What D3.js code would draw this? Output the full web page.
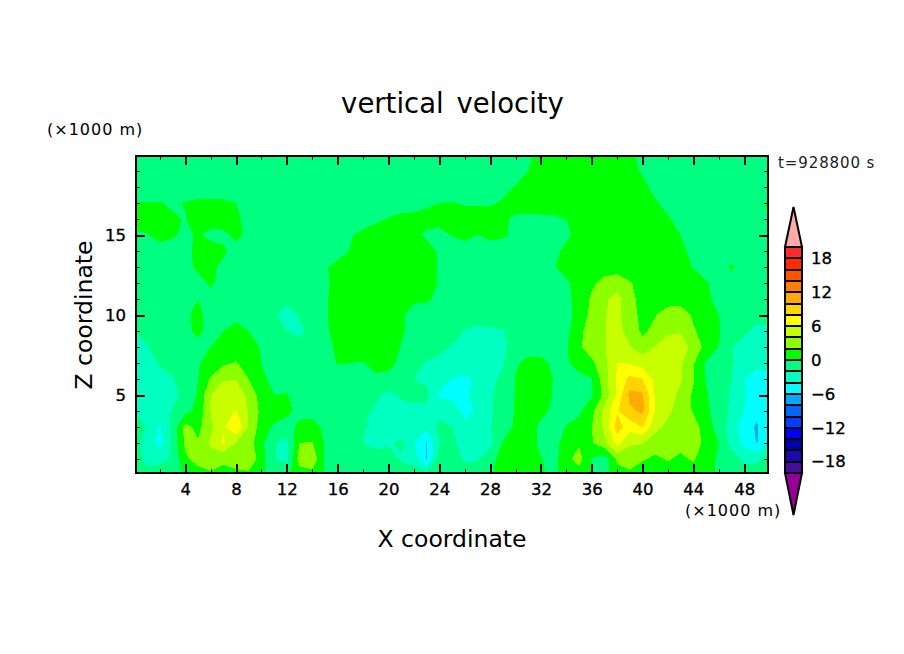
<!DOCTYPE html>
<html>
<head>
<meta charset="utf-8">
<title>vertical velocity</title>
<script src="https://cdnjs.cloudflare.com/ajax/libs/d3/7.8.5/d3.min.js"></script>
<style>
  body { margin: 0; background: #fff; }
  text { font-family: "DejaVu Sans", sans-serif; fill: #000; }
</style>
</head>
<body>
<div id="chart"></div>
<script>
// grid positions in km
const xGrid = d3.range(0, 51);
const zGrid = d3.range(20, -1, -1);

// vertical velocity, one row per km of height from z=20 down to z=0, columns x=0..50
const velocity = [
  [-1,-1,-1,-1,-1,-1,-1,-1,-1,-1, -1,-1,-1,-1,-1,-1,-1,-1,-1,-1, -1,-1,-1,-1,-1,-1,-1,-1,-1,-1, -1,-.4,.8,.8,.8,.8,.8,.8,.8,.4, -.6,-1,-1,-1,-1,-1,-1,-1,-1,-1,-1],
  [-1,-1,-1,-1,-1,-1,-1,-1,-1,-1, -1,-1,-1,-1,-1,-1,-1,-1,-1,-1, -1,-1,-1,-1,-1,-1,-1,-1,-1,-1, -.6,0,1,1,1,1,1,1,1,.6, -.2,-1,-1,-1,-1,-1,-1,-1,-1,-1,-1],
  [-1,-1,-1,-1,-1,-1,-1,-1,-1,-1, -1,-1,-1,-1,-1,-1,-1,-1,-1,-1, -1,-1,-1,-1,-1,-1,-1,-1,-1,-.5, .1,1,1,1,1,1,1,1,1,1, .5,-.5,-1,-1,-1,-1,-1,-1,-1,-1,-1],
  [.1,.1,.1,-.3,.1,.3,.3,.3,0,-1, -1,-1,-1,-1,-1,-1,-1,-1,-1,-1, -1,-1,-.7,-.3,0,.1,-.2,-.2,-.2,.2, .8,1,1,1,1,1,1,1,1,1, 1,.2,-.6,-1,-1,-1,-1,-1,-1,-.4,.3],
  [1,1,1,.3,-.1,1,1,1,.4,-.6, -1,-1,-1,-1,-1,-1,-1,-1,-1,-.4, .1,.6,.5,.6,.6,.8,1,1,1,.4, -.4,-.4,-.4,-.3,0,1,1,1,1,1, 1,1,.2,-.6,-1,-1,-1,-1,-1,-.5,0],
  [-.4,-.1,.8,.3,-.5,.3,-.6,-.5,.5,-.5, -1,-1,-1,-1,-1,-1,-1,-.2,.6,1, 1,1,.5,-.3,-.5,.1,.6,0,.5,.3, -.5,-1,-1,-1,-.3,.5,1,1,1,1, 1,1,1,0,-.7,-1,-1,-1,-1,-1,-1],
  [-1,-1,-1,-1,-.6,.5,1,.3,-.7,-1, -1,-1,-1,-1,-1,-1,-.8,.1,1,1, 1,1,1,.7,-.2,-1,-1,-1,-1,-1, -1,-1,-1,-.4,.4,1,1,1,1,1, 1,1,1,.5,-.5,-1,-1,-1,-1,-1,-1],
  [-1,-1,-1,-1,-.6,.4,.4,-.4,-1,-1, -1,-1,-1,-1,-1,-.2,.6,1,1,1, 1,1,1,.8,-.2,-1,-1,-1,-1,-1, -1,-1,-1,-.1,.5,1.2,1.2,1.2,1.2,1.2, 1.2,1.2,1.2,.8,-.1,-1,-1,.3,-1,-1,-1],
  [-1,-1,-1,-1,-1,-.7,.3,-.7,-1,-1, -1,-1,-1,-1,-1,-.3,.5,1.2,1.2,1.2, 1.2,1.2,1.2,1.2,-.2,-1,-1,-1,-1,-1, -1,-1,-1,-1,-.2,.5,1.7,2.6,3,2.1, 1.6,1.2,1.2,1.2,1,.2,-.7,-1,-1,-1,-1],
  [-1,-1,-1,-1,-.3,0,-.7,-1,-1,-1, -1,-1,-1.4,-1.2,-1,-.2,.6,1,1,1, 1,.4,.2,.3,-.5,-1,-1,-1,-1,-1, -1,-1,-1,-1,-.4,.6,2.3,3.6,4.8,2.5, 1.4,1.1,1.1,1.1,1.1,.4,-.6,-1,-1,-1,-1],
  [-1,-1,-1,-1,-.4,.6,-.9,-1,-.6,-1, -1,-1.7,-3,-1.8,-1,-.2,.7,1,1,1, 1,.2,-.5,-1,-1,-1,-1,-1.6,-1,-1, -1,-1,-1,-1,-.6,.7,2.6,3.9,4.6,2.6, 1.6,1.9,3,3.2,1.7,.9,0,-.8,-1,-1.2,-1.2],
  [-2,-1.5,-1,-1,-.5,.4,-.6,0,.8,0, -.8,-1.2,-2,-2.5,-1.3,-.3,.6,1,1,1, 1,.2,-.5,-1,-1,-1.2,-2.1,-2.2,-2.3,-2.1, -1.4,-1,-1,-.9,-.6,1.6,2.8,3.9,4.6,3.3, 1.6,2.6,3.7,3.8,2.2,1.3,.1,-.8,-1.6,-2.6,-2.4],
  [-2.6,-2.1,-1.5,-1,-1,-.5,0,1,1.4,.9, -.2,-.8,-1.3,-1.2,-.9,-.5,.3,1,1,1, 1,-.1,-.7,-1.2,-1.7,-2.1,-2.5,-2.6,-2.7,-2.2, -1.6,-1,-1,-1,-.2,1.7,3,3.9,5,4.1, 3,4.1,5,5.2,3.2,1.4,0,-1.9,-2.8,-3,-3.2],
  [-3,-2.4,-1.9,-1.5,-1,-.2,.8,1.7,2.1,1.4, 0,-.5,-.8,-.8,-.9,-.7,.1,0,-.1,.7, .4,-.3,-1.6,-2.1,-2.3,-2.7,-3,-3,-3,-2.2, -.3,.7,.6,-.4,-.2,.7,1.6,3.4,6,5.8, 5.1,5,5,4.3,2.2,-.3,-.6,-1.8,-2.9,-3.4,-3.4],
  [-3.2,-2.7,-2.4,-2.1,-1,0,2.2,3.8,3.9,2, .3,-.4,-.7,-.8,-.8,-.8,-.8,-.8,-.8,-.4, -.4,-.8,-2,-2.4,-2.6,-4.1,-4.3,-3.8,-2.6,-1.5, .1,1.2,1.2,-.1,-.6,-.5,-.1,3.2,6.3,8.6, 8,5.5,5.2,4.2,2.2,-.1,-1,-2,-4,-4.8,-4.6],
  [-3.2,-3,-2.7,-2.5,-1.5,.2,4,5.3,5.4,3.5, 1.1,0,.1,-.6,-1,-1,-1,-1,-1,-1.6, -2.5,-1.8,-1.3,-1.5,-4.3,-4.5,-4.4,-3,-2.2,-1.3, .1,1.5,1.2,-.2,-.8,-.7,-.2,2.6,6.4,10.6, 10.3,5.8,5,3.5,1.7,.2,-1.1,-2.2,-3.8,-5,-4.7],
  [-2.1,-2.4,-2.5,-1.9,-.6,.5,4.1,5,6.1,3.8, 1.5,1,.5,-.6,-1,-1,-1,-1,-1.6,-2.3, -2.5,-2.5,-2.7,-2.6,-2.6,-3,-4.5,-3.8,-2.2,-1.4, .2,.8,.4,-.3,-.6,-.3,1.4,4.6,7.8,9.6, 10.4,6,4.4,3.2,1.8,.4,-.9,-2.4,-4,-5.5,-4.8],
  [-1.2,-2.1,-4.3,-1.3,2.7,1.4,3.6,5.8,8,3.9, 1,-.3,-.8,.5,1,-.5,-1,-1.3,-1.8,-2.7, -2.6,-3.4,-2.5,-3.5,-1.5,-2,-3.5,-3,-2.1,-.9, .3,.6,-.3,-.7,.1,.6,2,4.4,9,6.8, 8.1,4.6,3.5,3,3,.9,-.8,-3,-4.9,-6.3,-3.5],
  [-1,-3,-4.6,-1.4,2.4,2.2,4.3,6.3,3.9,3, .5,-1.9,-2.6,2,2.1,-.2,-.7,-.9,-2,-2.6, -2.3,-1.6,-3.8,-6.2,-2.2,-1,-3.6,-2.9,-2.7,.1, .9,.8,-.4,-1,1.2,1.8,1.8,3.6,6.8,4.2, 4.1,3,2.6,2.8,3,1.4,0,-2.6,-4.6,-6.1,-3.6],
  [-1,-2.6,-2.5,-1.8,1.6,2.9,3.2,2.4,3,3.8, .9,-1.9,-2.6,3,3.6,-.3,-.9,-1,-1,-1, -1,-2.2,-2.8,-6.1,-1,-1,-2.3,-2.2,-.7,.8, 1,1,.1,-.8,1.4,2.8,-.1,-1.2,2.4,3.2, 2.2,1.6,2.2,1.5,2.3,.6,-.2,-1,-2.4,-2.4,-1.2],
  [-1,-1.2,-1,-.8,.2,.9,1.6,1.3,1.4,1.4, .2,-.6,-.3,.8,1.2,-.1,-1,-1,-1,-1, -1,-1,-1,-1,.1,-.5,-1,-1,-.2,.8, 1,1,.3,-.4,1,1,.1,-.6,1.2,1.4, .9,.8,.9,1,1,.5,-.2,-.8,-1,-1,-1]
];

// contour levels and the colour of the band that starts at each level
const levels = d3.range(-20, 20, 2);
const bandColors = [
  '#4b0a9f', '#1a0aaa', '#0000aa', '#0000ff', '#0040ff',
  '#0066ff', '#00aaff', '#00ffff', '#00ffc0', '#00ff80',
  '#00ff00', '#8cff00', '#c8ff00', '#ffff00', '#ffd400',
  '#ffaa00', '#ff7f00', '#ff5500', '#ff2a00', '#ff2a2a'
];
const overColor = '#ffaaaa';
const underColor = '#960096';

const xMajor = d3.range(4, 49, 4);
const xMinor = d3.range(2, 50, 4);
const zMajor = [5, 10, 15];
const zMinor = d3.range(1, 20).filter(d => d % 5 !== 0);
const barTicks = [-18, -12, -6, 0, 6, 12, 18];

const WIDTH = 904;
const HEIGHT = 654;
const LEFT = 136, RIGHT = 768, TOP = 156, BOTTOM = 473;

const svg = d3.select('#chart').append('svg')
  .attr('width', WIDTH)
  .attr('height', HEIGHT)
  .style('display', 'block');

const x = d3.scaleLinear().domain([0.125, 49.875]).range([LEFT, RIGHT]);
const z = d3.scaleLinear().domain([0.125, 19.94]).range([BOTTOM, TOP]);

svg.append('clipPath').attr('id', 'plot-clip')
  .append('rect')
  .attr('x', LEFT).attr('y', TOP)
  .attr('width', RIGHT - LEFT).attr('height', BOTTOM - TOP);

// filled contours, low levels first so higher bands paint over them
const flat = velocity.flat();
const contours = d3.contours()
  .size([xGrid.length, zGrid.length])
  .thresholds(levels)(flat);

// d3.contours puts grid node i at i + 0.5
const toPlot = d3.geoTransform({
  point(px, py) {
    this.stream.point(x(px - 0.5), z(20 - (py - 0.5)));
  }
});
const path = d3.geoPath(toPlot);

svg.append('g')
  .attr('clip-path', 'url(#plot-clip)')
  .selectAll('path')
  .data(contours)
  .enter()
  .append('path')
  .attr('d', path)
  .attr('fill', (d, i) => bandColors[i])
  .attr('shape-rendering', 'crispEdges');

const styleTickText = sel => sel
  .attr('font-size', 16.5)
  .attr('stroke', '#000')
  .attr('stroke-width', 0.35)
  .style('font-family', '"DejaVu Sans", sans-serif');

// axes, ticks point into the plot on all four sides
const drawAxis = (axisFn, scale, major, minor, translate, padding) => {
  const minorAxis = axisFn(scale).tickValues(minor).tickSize(-4).tickFormat('');
  const majorAxis = axisFn(scale).tickValues(major).tickSize(-9).tickPadding(padding || 0);
  if (!padding) majorAxis.tickFormat('');
  [minorAxis, majorAxis].forEach((a, i) => {
    const g = svg.append('g').attr('transform', translate).call(a);
    g.select('.domain').remove();
    g.selectAll('line').attr('stroke', '#000').attr('stroke-width', i ? 2 : 1)
      .attr('shape-rendering', 'crispEdges');
    g.selectAll('text').call(styleTickText);
  });
};
drawAxis(d3.axisBottom, x, xMajor, xMinor, `translate(0,${BOTTOM})`, 10.5);
drawAxis(d3.axisTop, x, xMajor, xMinor, `translate(0,${TOP})`);
drawAxis(d3.axisLeft, z, zMajor, zMinor, `translate(${LEFT},0)`, 10);
drawAxis(d3.axisRight, z, zMajor, zMinor, `translate(${RIGHT},0)`);

svg.append('rect')
  .attr('x', LEFT).attr('y', TOP)
  .attr('width', RIGHT - LEFT).attr('height', BOTTOM - TOP)
  .attr('fill', 'none').attr('stroke', '#000').attr('stroke-width', 2)
  .attr('shape-rendering', 'crispEdges');

// colour bar
const BAR_X0 = 785, BAR_X1 = 802, TIP_TOP = 207, TIP_BOTTOM = 515;
const barY = d3.scaleLinear().domain([-20, 20]).range([BOTTOM, 247]);
const bar = svg.append('g');

bar.selectAll('rect')
  .data(levels)
  .enter()
  .append('rect')
  .attr('x', BAR_X0)
  .attr('y', d => barY(d + 2))
  .attr('width', BAR_X1 - BAR_X0)
  .attr('height', d => barY(d) - barY(d + 2))
  .attr('fill', (d, i) => bandColors[i])
  .attr('stroke', '#000')
  .attr('stroke-width', 2)
  .attr('shape-rendering', 'crispEdges');

const tip = d3.line();
const BAR_MID = (BAR_X0 + BAR_X1) / 2;
bar.append('path')
  .attr('d', tip([[BAR_X0, barY(20)], [BAR_MID, TIP_TOP], [BAR_X1, barY(20)]]) + 'Z')
  .attr('fill', overColor).attr('stroke', '#000').attr('stroke-width', 2);
bar.append('path')
  .attr('d', tip([[BAR_X0, barY(-20)], [BAR_MID, TIP_BOTTOM], [BAR_X1, barY(-20)]]) + 'Z')
  .attr('fill', underColor).attr('stroke', '#000').attr('stroke-width', 2);

const barAxis = d3.axisRight(barY)
  .tickValues(barTicks)
  .tickSize(0)
  .tickPadding(9)
  .tickFormat(d => (d < 0 ? '\u2212' : '') + Math.abs(d));
const barAxisG = svg.append('g').attr('transform', `translate(${BAR_X1},0)`).call(barAxis);
barAxisG.select('.domain').remove();
barAxisG.selectAll('text').call(styleTickText);

// titles and labels
const label = (tx, ty, str, size, anchor) => svg.append('text')
  .attr('x', tx).attr('y', ty)
  .attr('font-size', size)
  .attr('text-anchor', anchor || 'start')
  .text(str);

label(452.5, 113, 'vertical velocity', 27.5, 'middle').style('word-spacing', '4px');
label(47, 135, '(\u00d71000 m)', 16).style('letter-spacing', '1px');
label(685, 516, '(\u00d71000 m)', 16).style('letter-spacing', '1px');
label(778, 168, 't=928800 s', 15).style('letter-spacing', '0.9px').style('fill', '#222');
label(452, 547, 'X coordinate', 23.5, 'middle');
label(0, 0, 'Z coordinate', 23.5, 'middle')
  .attr('transform', 'translate(92,315) rotate(-90)');
</script>
</body>
</html>
